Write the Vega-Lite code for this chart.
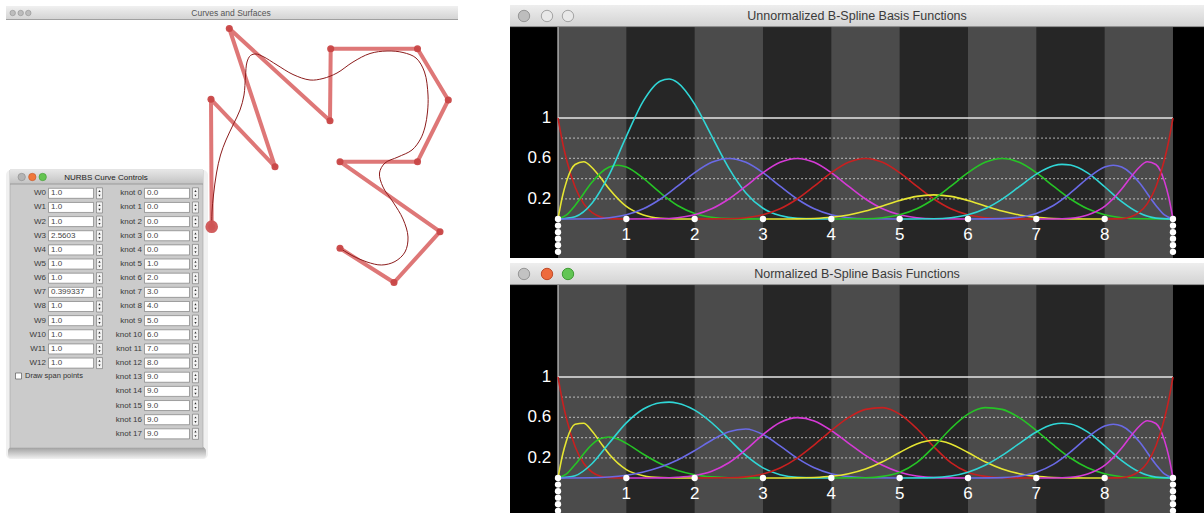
{
"$schema": "https://vega.github.io/schema/vega-lite/v6.json",
"padding": 0,
"background": "white",
"config": {"view": {"stroke": null}, "text": {"font": "Liberation Sans"}},
"bounds": "flush",
"spacing": 0,
"datasets": {
"grid": [{"v":0.2,"t":0.05,"t2":8.9},{"v":0.4,"t":0.05,"t2":8.9},{"v":0.6,"t":0.05,"t2":8.9},{"v":0.8,"t":0.05,"t2":8.9}],
"knots": [{"t":0,"v":0},{"t":0,"v":-0.065},{"t":0,"v":-0.13},{"t":0,"v":-0.195},{"t":0,"v":-0.26},{"t":0,"v":-0.325},
{"t":1,"v":0},{"t":2,"v":0},{"t":3,"v":0},{"t":4,"v":0},{"t":5,"v":0},{"t":6,"v":0},{"t":7,"v":0},{"t":8,"v":0},
{"t":9,"v":0},{"t":9,"v":-0.065},{"t":9,"v":-0.13},{"t":9,"v":-0.195},{"t":9,"v":-0.26},{"t":9,"v":-0.325}],
"ylabels": [{"t":-0.1,"v":1,"s":"1"},{"t":-0.1,"v":0.6,"s":"0.6"},{"t":-0.1,"v":0.2,"s":"0.2"}],
"xlabels": [{"t":1,"v":-0.155,"s":"1"},{"t":2,"v":-0.155,"s":"2"},{"t":3,"v":-0.155,"s":"3"},{"t":4,"v":-0.155,"s":"4"},{"t":5,"v":-0.155,"s":"5"},{"t":6,"v":-0.155,"s":"6"},{"t":7,"v":-0.155,"s":"7"},{"t":8,"v":-0.155,"s":"8"}],
"basis": [
{"p":"U","i":0,"t":0,"v":1},{"p":"U","i":0,"t":0.0625,"v":0.7725},{"p":"U","i":0,"t":0.125,"v":0.5862},{"p":"U","i":0,"t":0.25,"v":0.3164},{"p":"U","i":0,"t":0.375,"v":0.1526},{"p":"U","i":0,"t":0.5,"v":0.0625},{"p":"U","i":0,"t":0.625,"v":0.0198},{"p":"U","i":0,"t":0.75,"v":0.0039},{"p":"U","i":0,"t":1,"v":0},
{"p":"U","i":1,"t":0,"v":0},{"p":"U","i":1,"t":0.0625,"v":0.2165},{"p":"U","i":1,"t":0.125,"v":0.3726},{"p":"U","i":1,"t":0.25,"v":0.5396},{"p":"U","i":1,"t":0.375,"v":0.5664},{"p":"U","i":1,"t":0.5,"v":0.5078},{"p":"U","i":1,"t":0.625,"v":0.4073},{"p":"U","i":1,"t":0.75,"v":0.2974},{"p":"U","i":1,"t":1,"v":0.125},{"p":"U","i":1,"t":1.25,"v":0.0396},{"p":"U","i":1,"t":1.5,"v":0.0078},{"p":"U","i":1,"t":1.75,"v":0.0005},{"p":"U","i":1,"t":2,"v":0},
{"p":"U","i":2,"t":0,"v":0},{"p":"U","i":2,"t":0.125,"v":0.04},{"p":"U","i":2,"t":0.25,"v":0.1348},{"p":"U","i":2,"t":0.5,"v":0.3655},{"p":"U","i":2,"t":0.625,"v":0.4568},{"p":"U","i":2,"t":0.75,"v":0.5142},{"p":"U","i":2,"t":0.875,"v":0.5325},{"p":"U","i":2,"t":1,"v":0.5139},{"p":"U","i":2,"t":1.25,"v":0.4024},{"p":"U","i":2,"t":1.5,"v":0.2578},{"p":"U","i":2,"t":1.75,"v":0.1342},{"p":"U","i":2,"t":2,"v":0.0556},{"p":"U","i":2,"t":2.25,"v":0.0176},{"p":"U","i":2,"t":2.5,"v":0.0035},{"p":"U","i":2,"t":3,"v":0},
{"p":"U","i":3,"t":0,"v":0},{"p":"U","i":3,"t":0.25,"v":0.0233},{"p":"U","i":3,"t":0.5,"v":0.1578},{"p":"U","i":3,"t":0.75,"v":0.4388},{"p":"U","i":3,"t":1,"v":0.8178},{"p":"U","i":3,"t":1.25,"v":1.17},{"p":"U","i":3,"t":1.5,"v":1.3669},{"p":"U","i":3,"t":1.625,"v":1.3856},{"p":"U","i":3,"t":1.75,"v":1.35},{"p":"U","i":3,"t":2,"v":1.1378},{"p":"U","i":3,"t":2.25,"v":0.8206},{"p":"U","i":3,"t":2.5,"v":0.5044},{"p":"U","i":3,"t":2.75,"v":0.2583},{"p":"U","i":3,"t":3,"v":0.1068},{"p":"U","i":3,"t":3.25,"v":0.0338},{"p":"U","i":3,"t":3.5,"v":0.0067},{"p":"U","i":3,"t":4,"v":0},
{"p":"U","i":4,"t":0,"v":0},{"p":"U","i":4,"t":0.5,"v":0.0026},{"p":"U","i":4,"t":0.75,"v":0.0132},{"p":"U","i":4,"t":1,"v":0.0417},{"p":"U","i":4,"t":1.25,"v":0.1009},{"p":"U","i":4,"t":1.5,"v":0.1979},{"p":"U","i":4,"t":1.75,"v":0.3249},{"p":"U","i":4,"t":2,"v":0.4583},{"p":"U","i":4,"t":2.25,"v":0.5609},{"p":"U","i":4,"t":2.5,"v":0.599},{"p":"U","i":4,"t":2.75,"v":0.5609},{"p":"U","i":4,"t":3,"v":0.4583},{"p":"U","i":4,"t":3.25,"v":0.3249},{"p":"U","i":4,"t":3.5,"v":0.1979},{"p":"U","i":4,"t":3.75,"v":0.1009},{"p":"U","i":4,"t":4,"v":0.0417},{"p":"U","i":4,"t":4.25,"v":0.0132},{"p":"U","i":4,"t":4.5,"v":0.0026},{"p":"U","i":4,"t":5,"v":0},
{"p":"U","i":5,"t":1,"v":0},{"p":"U","i":5,"t":1.5,"v":0.0026},{"p":"U","i":5,"t":1.75,"v":0.0132},{"p":"U","i":5,"t":2,"v":0.0417},{"p":"U","i":5,"t":2.25,"v":0.1009},{"p":"U","i":5,"t":2.5,"v":0.1979},{"p":"U","i":5,"t":2.75,"v":0.3249},{"p":"U","i":5,"t":3,"v":0.4583},{"p":"U","i":5,"t":3.25,"v":0.5609},{"p":"U","i":5,"t":3.5,"v":0.599},{"p":"U","i":5,"t":3.75,"v":0.5609},{"p":"U","i":5,"t":4,"v":0.4583},{"p":"U","i":5,"t":4.25,"v":0.3249},{"p":"U","i":5,"t":4.5,"v":0.1979},{"p":"U","i":5,"t":4.75,"v":0.1009},{"p":"U","i":5,"t":5,"v":0.0417},{"p":"U","i":5,"t":5.25,"v":0.0132},{"p":"U","i":5,"t":5.5,"v":0.0026},{"p":"U","i":5,"t":6,"v":0},
{"p":"U","i":6,"t":2,"v":0},{"p":"U","i":6,"t":2.5,"v":0.0026},{"p":"U","i":6,"t":2.75,"v":0.0132},{"p":"U","i":6,"t":3,"v":0.0417},{"p":"U","i":6,"t":3.25,"v":0.1009},{"p":"U","i":6,"t":3.5,"v":0.1979},{"p":"U","i":6,"t":3.75,"v":0.3249},{"p":"U","i":6,"t":4,"v":0.4583},{"p":"U","i":6,"t":4.25,"v":0.5609},{"p":"U","i":6,"t":4.5,"v":0.599},{"p":"U","i":6,"t":4.75,"v":0.5609},{"p":"U","i":6,"t":5,"v":0.4583},{"p":"U","i":6,"t":5.25,"v":0.3249},{"p":"U","i":6,"t":5.5,"v":0.1979},{"p":"U","i":6,"t":5.75,"v":0.1009},{"p":"U","i":6,"t":6,"v":0.0417},{"p":"U","i":6,"t":6.25,"v":0.0132},{"p":"U","i":6,"t":6.5,"v":0.0026},{"p":"U","i":6,"t":7,"v":0},
{"p":"U","i":7,"t":3,"v":0},{"p":"U","i":7,"t":3.5,"v":0.001},{"p":"U","i":7,"t":3.75,"v":0.0053},{"p":"U","i":7,"t":4,"v":0.0166},{"p":"U","i":7,"t":4.25,"v":0.0403},{"p":"U","i":7,"t":4.5,"v":0.079},{"p":"U","i":7,"t":4.75,"v":0.1297},{"p":"U","i":7,"t":5,"v":0.183},{"p":"U","i":7,"t":5.25,"v":0.224},{"p":"U","i":7,"t":5.5,"v":0.2392},{"p":"U","i":7,"t":5.75,"v":0.224},{"p":"U","i":7,"t":6,"v":0.183},{"p":"U","i":7,"t":6.25,"v":0.1297},{"p":"U","i":7,"t":6.5,"v":0.079},{"p":"U","i":7,"t":6.75,"v":0.0403},{"p":"U","i":7,"t":7,"v":0.0166},{"p":"U","i":7,"t":7.25,"v":0.0053},{"p":"U","i":7,"t":7.5,"v":0.001},{"p":"U","i":7,"t":8,"v":0},
{"p":"U","i":8,"t":4,"v":0},{"p":"U","i":8,"t":4.5,"v":0.0026},{"p":"U","i":8,"t":4.75,"v":0.0132},{"p":"U","i":8,"t":5,"v":0.0417},{"p":"U","i":8,"t":5.25,"v":0.1009},{"p":"U","i":8,"t":5.5,"v":0.1979},{"p":"U","i":8,"t":5.75,"v":0.3249},{"p":"U","i":8,"t":6,"v":0.4583},{"p":"U","i":8,"t":6.25,"v":0.5609},{"p":"U","i":8,"t":6.5,"v":0.599},{"p":"U","i":8,"t":6.75,"v":0.5609},{"p":"U","i":8,"t":7,"v":0.4583},{"p":"U","i":8,"t":7.25,"v":0.3249},{"p":"U","i":8,"t":7.5,"v":0.1979},{"p":"U","i":8,"t":7.75,"v":0.1009},{"p":"U","i":8,"t":8,"v":0.0417},{"p":"U","i":8,"t":8.25,"v":0.0132},{"p":"U","i":8,"t":8.5,"v":0.0026},{"p":"U","i":8,"t":9,"v":0},
{"p":"U","i":9,"t":5,"v":0},{"p":"U","i":9,"t":5.5,"v":0.0026},{"p":"U","i":9,"t":5.75,"v":0.0132},{"p":"U","i":9,"t":6,"v":0.0417},{"p":"U","i":9,"t":6.25,"v":0.1009},{"p":"U","i":9,"t":6.5,"v":0.197},{"p":"U","i":9,"t":6.75,"v":0.3205},{"p":"U","i":9,"t":7,"v":0.4444},{"p":"U","i":9,"t":7.25,"v":0.5273},{"p":"U","i":9,"t":7.375,"v":0.5412},{"p":"U","i":9,"t":7.5,"v":0.5339},{"p":"U","i":9,"t":7.75,"v":0.457},{"p":"U","i":9,"t":8,"v":0.3194},{"p":"U","i":9,"t":8.25,"v":0.1714},{"p":"U","i":9,"t":8.5,"v":0.0616},{"p":"U","i":9,"t":8.75,"v":0.0091},{"p":"U","i":9,"t":9,"v":0},
{"p":"U","i":10,"t":6,"v":0},{"p":"U","i":10,"t":6.5,"v":0.0035},{"p":"U","i":10,"t":6.75,"v":0.0176},{"p":"U","i":10,"t":7,"v":0.0556},{"p":"U","i":10,"t":7.25,"v":0.1342},{"p":"U","i":10,"t":7.5,"v":0.2578},{"p":"U","i":10,"t":7.75,"v":0.4024},{"p":"U","i":10,"t":8,"v":0.5139},{"p":"U","i":10,"t":8.125,"v":0.5325},{"p":"U","i":10,"t":8.25,"v":0.5142},{"p":"U","i":10,"t":8.375,"v":0.4568},{"p":"U","i":10,"t":8.5,"v":0.3655},{"p":"U","i":10,"t":8.75,"v":0.1348},{"p":"U","i":10,"t":8.875,"v":0.04},{"p":"U","i":10,"t":9,"v":0},
{"p":"U","i":11,"t":7,"v":0},{"p":"U","i":11,"t":7.25,"v":0.0005},{"p":"U","i":11,"t":7.5,"v":0.0078},{"p":"U","i":11,"t":7.75,"v":0.0396},{"p":"U","i":11,"t":8,"v":0.125},{"p":"U","i":11,"t":8.25,"v":0.2974},{"p":"U","i":11,"t":8.375,"v":0.4073},{"p":"U","i":11,"t":8.5,"v":0.5078},{"p":"U","i":11,"t":8.625,"v":0.5664},{"p":"U","i":11,"t":8.75,"v":0.5396},{"p":"U","i":11,"t":8.875,"v":0.3726},{"p":"U","i":11,"t":8.9375,"v":0.2165},{"p":"U","i":11,"t":9,"v":0},
{"p":"U","i":12,"t":8,"v":0},{"p":"U","i":12,"t":8.25,"v":0.0039},{"p":"U","i":12,"t":8.375,"v":0.0198},{"p":"U","i":12,"t":8.5,"v":0.0625},{"p":"U","i":12,"t":8.625,"v":0.1526},{"p":"U","i":12,"t":8.75,"v":0.3164},{"p":"U","i":12,"t":8.875,"v":0.5862},{"p":"U","i":12,"t":8.9375,"v":0.7725},{"p":"U","i":12,"t":9,"v":1},
{"p":"N","i":0,"t":0,"v":1},{"p":"N","i":0,"t":0.0625,"v":0.7724},{"p":"N","i":0,"t":0.125,"v":0.5851},{"p":"N","i":0,"t":0.25,"v":0.312},{"p":"N","i":0,"t":0.375,"v":0.1461},{"p":"N","i":0,"t":0.5,"v":0.057},{"p":"N","i":0,"t":0.625,"v":0.0169},{"p":"N","i":0,"t":0.75,"v":0.0031},{"p":"N","i":0,"t":1,"v":0},
{"p":"N","i":1,"t":0,"v":0},{"p":"N","i":1,"t":0.0625,"v":0.2165},{"p":"N","i":1,"t":0.125,"v":0.3719},{"p":"N","i":1,"t":0.25,"v":0.532},{"p":"N","i":1,"t":0.375,"v":0.5424},{"p":"N","i":1,"t":0.5,"v":0.4633},{"p":"N","i":1,"t":0.625,"v":0.3477},{"p":"N","i":1,"t":0.75,"v":0.2347},{"p":"N","i":1,"t":1,"v":0.0834},{"p":"N","i":1,"t":1.25,"v":0.0231},{"p":"N","i":1,"t":1.5,"v":0.0043},{"p":"N","i":1,"t":1.75,"v":0.0003},{"p":"N","i":1,"t":2,"v":0},
{"p":"N","i":2,"t":0,"v":0},{"p":"N","i":2,"t":0.125,"v":0.0399},{"p":"N","i":2,"t":0.25,"v":0.1329},{"p":"N","i":2,"t":0.5,"v":0.3335},{"p":"N","i":2,"t":0.625,"v":0.39},{"p":"N","i":2,"t":0.75,"v":0.4057},{"p":"N","i":2,"t":0.875,"v":0.386},{"p":"N","i":2,"t":1,"v":0.343},{"p":"N","i":2,"t":1.25,"v":0.2349},{"p":"N","i":2,"t":1.5,"v":0.1406},{"p":"N","i":2,"t":1.75,"v":0.0736},{"p":"N","i":2,"t":2,"v":0.0328},{"p":"N","i":2,"t":2.25,"v":0.0117},{"p":"N","i":2,"t":2.5,"v":0.0027},{"p":"N","i":2,"t":3,"v":0},
{"p":"N","i":3,"t":0,"v":0},{"p":"N","i":3,"t":0.25,"v":0.023},{"p":"N","i":3,"t":0.5,"v":0.144},{"p":"N","i":3,"t":0.75,"v":0.3462},{"p":"N","i":3,"t":1,"v":0.5458},{"p":"N","i":3,"t":1.25,"v":0.683},{"p":"N","i":3,"t":1.5,"v":0.7457},{"p":"N","i":3,"t":1.625,"v":0.7512},{"p":"N","i":3,"t":1.75,"v":0.7406},{"p":"N","i":3,"t":2,"v":0.6719},{"p":"N","i":3,"t":2.25,"v":0.547},{"p":"N","i":3,"t":2.5,"v":0.3858},{"p":"N","i":3,"t":2.75,"v":0.2232},{"p":"N","i":3,"t":3,"v":0.1003},{"p":"N","i":3,"t":3.25,"v":0.0331},{"p":"N","i":3,"t":3.5,"v":0.0067},{"p":"N","i":3,"t":4,"v":0},
{"p":"N","i":4,"t":0,"v":0},{"p":"N","i":4,"t":0.5,"v":0.0024},{"p":"N","i":4,"t":0.75,"v":0.0104},{"p":"N","i":4,"t":1,"v":0.0278},{"p":"N","i":4,"t":1.25,"v":0.0589},{"p":"N","i":4,"t":1.5,"v":0.108},{"p":"N","i":4,"t":1.75,"v":0.1782},{"p":"N","i":4,"t":2,"v":0.2706},{"p":"N","i":4,"t":2.25,"v":0.3739},{"p":"N","i":4,"t":2.5,"v":0.4582},{"p":"N","i":4,"t":2.75,"v":0.4846},{"p":"N","i":4,"t":3,"v":0.4303},{"p":"N","i":4,"t":3.25,"v":0.3184},{"p":"N","i":4,"t":3.5,"v":0.1974},{"p":"N","i":4,"t":3.75,"v":0.1017},{"p":"N","i":4,"t":4,"v":0.0428},{"p":"N","i":4,"t":4.25,"v":0.0141},{"p":"N","i":4,"t":4.5,"v":0.003},{"p":"N","i":4,"t":5,"v":0},
{"p":"N","i":5,"t":1,"v":0},{"p":"N","i":5,"t":1.5,"v":0.0014},{"p":"N","i":5,"t":1.75,"v":0.0072},{"p":"N","i":5,"t":2,"v":0.0246},{"p":"N","i":5,"t":2.25,"v":0.0673},{"p":"N","i":5,"t":2.5,"v":0.1514},{"p":"N","i":5,"t":2.75,"v":0.2807},{"p":"N","i":5,"t":3,"v":0.4303},{"p":"N","i":5,"t":3.25,"v":0.5496},{"p":"N","i":5,"t":3.5,"v":0.5975},{"p":"N","i":5,"t":3.75,"v":0.5652},{"p":"N","i":5,"t":4,"v":0.4701},{"p":"N","i":5,"t":4.25,"v":0.3459},{"p":"N","i":5,"t":4.5,"v":0.2246},{"p":"N","i":5,"t":4.75,"v":0.1254},{"p":"N","i":5,"t":5,"v":0.0575},{"p":"N","i":5,"t":5.25,"v":0.0199},{"p":"N","i":5,"t":5.5,"v":0.0041},{"p":"N","i":5,"t":6,"v":0},
{"p":"N","i":6,"t":2,"v":0},{"p":"N","i":6,"t":2.5,"v":0.002},{"p":"N","i":6,"t":2.75,"v":0.0114},{"p":"N","i":6,"t":3,"v":0.0392},{"p":"N","i":6,"t":3.25,"v":0.0989},{"p":"N","i":6,"t":3.5,"v":0.1974},{"p":"N","i":6,"t":3.75,"v":0.3274},{"p":"N","i":6,"t":4,"v":0.4701},{"p":"N","i":6,"t":4.25,"v":0.5971},{"p":"N","i":6,"t":4.5,"v":0.6798},{"p":"N","i":6,"t":4.75,"v":0.6969},{"p":"N","i":6,"t":5,"v":0.6324},{"p":"N","i":6,"t":5.25,"v":0.49},{"p":"N","i":6,"t":5.5,"v":0.3091},{"p":"N","i":6,"t":5.75,"v":0.1522},{"p":"N","i":6,"t":6,"v":0.0575},{"p":"N","i":6,"t":6.25,"v":0.0164},{"p":"N","i":6,"t":6.5,"v":0.003},{"p":"N","i":6,"t":7,"v":0},
{"p":"N","i":7,"t":3,"v":0},{"p":"N","i":7,"t":3.5,"v":0.001},{"p":"N","i":7,"t":3.75,"v":0.0053},{"p":"N","i":7,"t":4,"v":0.017},{"p":"N","i":7,"t":4.25,"v":0.0429},{"p":"N","i":7,"t":4.5,"v":0.0897},{"p":"N","i":7,"t":4.75,"v":0.1612},{"p":"N","i":7,"t":5,"v":0.2525},{"p":"N","i":7,"t":5.25,"v":0.3378},{"p":"N","i":7,"t":5.5,"v":0.3736},{"p":"N","i":7,"t":5.75,"v":0.3378},{"p":"N","i":7,"t":6,"v":0.2525},{"p":"N","i":7,"t":6.25,"v":0.1612},{"p":"N","i":7,"t":6.5,"v":0.0897},{"p":"N","i":7,"t":6.75,"v":0.0429},{"p":"N","i":7,"t":7,"v":0.017},{"p":"N","i":7,"t":7.25,"v":0.0053},{"p":"N","i":7,"t":7.5,"v":0.001},{"p":"N","i":7,"t":8,"v":0},
{"p":"N","i":8,"t":4,"v":0},{"p":"N","i":8,"t":4.5,"v":0.003},{"p":"N","i":8,"t":4.75,"v":0.0164},{"p":"N","i":8,"t":5,"v":0.0575},{"p":"N","i":8,"t":5.25,"v":0.1522},{"p":"N","i":8,"t":5.5,"v":0.3091},{"p":"N","i":8,"t":5.75,"v":0.49},{"p":"N","i":8,"t":6,"v":0.6324},{"p":"N","i":8,"t":6.25,"v":0.6969},{"p":"N","i":8,"t":6.5,"v":0.6798},{"p":"N","i":8,"t":6.75,"v":0.5971},{"p":"N","i":8,"t":7,"v":0.4701},{"p":"N","i":8,"t":7.25,"v":0.3275},{"p":"N","i":8,"t":7.5,"v":0.1982},{"p":"N","i":8,"t":7.75,"v":0.1009},{"p":"N","i":8,"t":8,"v":0.0417},{"p":"N","i":8,"t":8.25,"v":0.0132},{"p":"N","i":8,"t":8.5,"v":0.0026},{"p":"N","i":8,"t":9,"v":0},
{"p":"N","i":9,"t":5,"v":0},{"p":"N","i":9,"t":5.5,"v":0.0041},{"p":"N","i":9,"t":5.75,"v":0.0199},{"p":"N","i":9,"t":6,"v":0.0575},{"p":"N","i":9,"t":6.25,"v":0.1254},{"p":"N","i":9,"t":6.5,"v":0.2236},{"p":"N","i":9,"t":6.75,"v":0.3412},{"p":"N","i":9,"t":7,"v":0.4558},{"p":"N","i":9,"t":7.25,"v":0.5315},{"p":"N","i":9,"t":7.375,"v":0.5417},{"p":"N","i":9,"t":7.5,"v":0.5348},{"p":"N","i":9,"t":7.75,"v":0.457},{"p":"N","i":9,"t":8,"v":0.3194},{"p":"N","i":9,"t":8.25,"v":0.1714},{"p":"N","i":9,"t":8.5,"v":0.0616},{"p":"N","i":9,"t":8.75,"v":0.0091},{"p":"N","i":9,"t":9,"v":0},
{"p":"N","i":10,"t":6,"v":0},{"p":"N","i":10,"t":6.5,"v":0.004},{"p":"N","i":10,"t":6.75,"v":0.0187},{"p":"N","i":10,"t":7,"v":0.057},{"p":"N","i":10,"t":7.25,"v":0.1353},{"p":"N","i":10,"t":7.5,"v":0.2582},{"p":"N","i":10,"t":7.75,"v":0.4024},{"p":"N","i":10,"t":8,"v":0.5139},{"p":"N","i":10,"t":8.125,"v":0.5325},{"p":"N","i":10,"t":8.25,"v":0.5142},{"p":"N","i":10,"t":8.375,"v":0.4568},{"p":"N","i":10,"t":8.5,"v":0.3655},{"p":"N","i":10,"t":8.75,"v":0.1348},{"p":"N","i":10,"t":8.875,"v":0.04},{"p":"N","i":10,"t":9,"v":0},
{"p":"N","i":11,"t":7,"v":0},{"p":"N","i":11,"t":7.25,"v":0.0005},{"p":"N","i":11,"t":7.5,"v":0.0078},{"p":"N","i":11,"t":7.75,"v":0.0396},{"p":"N","i":11,"t":8,"v":0.125},{"p":"N","i":11,"t":8.25,"v":0.2974},{"p":"N","i":11,"t":8.375,"v":0.4073},{"p":"N","i":11,"t":8.5,"v":0.5078},{"p":"N","i":11,"t":8.625,"v":0.5664},{"p":"N","i":11,"t":8.75,"v":0.5396},{"p":"N","i":11,"t":8.875,"v":0.3726},{"p":"N","i":11,"t":8.9375,"v":0.2165},{"p":"N","i":11,"t":9,"v":0},
{"p":"N","i":12,"t":8,"v":0},{"p":"N","i":12,"t":8.25,"v":0.0039},{"p":"N","i":12,"t":8.375,"v":0.0198},{"p":"N","i":12,"t":8.5,"v":0.0625},{"p":"N","i":12,"t":8.625,"v":0.1526},{"p":"N","i":12,"t":8.75,"v":0.3164},{"p":"N","i":12,"t":8.875,"v":0.5862},{"p":"N","i":12,"t":8.9375,"v":0.7725},{"p":"N","i":12,"t":9,"v":1}
],
"ctrl": [{"k":0,"x":211.7,"y":226.7},{"k":1,"x":211,"y":99.3},{"k":2,"x":275,"y":166.7},{"k":3,"x":229.3,"y":28.5},{"k":4,"x":330,"y":120.7},{"k":5,"x":330.7,"y":48.7},{"k":6,"x":417.5,"y":48.7},{"k":7,"x":448.3,"y":100},{"k":8,"x":417.5,"y":161.7},{"k":9,"x":340,"y":161.7},{"k":10,"x":440,"y":231.7},{"k":11,"x":394,"y":282.5},{"k":12,"x":340,"y":248.3}],
"curve": [{"k":0,"x":211.7,"y":226.7},{"k":1,"x":212,"y":212},{"k":2,"x":213.5,"y":195},{"k":3,"x":216.5,"y":173},{"k":4,"x":220.5,"y":155},{"k":5,"x":226,"y":140},{"k":6,"x":233.5,"y":124},{"k":7,"x":240,"y":110},{"k":8,"x":244,"y":95},{"k":9,"x":245.5,"y":76},{"k":10,"x":247,"y":62},{"k":11,"x":250.5,"y":55.5},{"k":12,"x":256,"y":54},{"k":13,"x":263,"y":56.5},{"k":14,"x":277,"y":65},{"k":15,"x":293,"y":74.5},{"k":16,"x":310,"y":80},{"k":17,"x":323,"y":78.5},{"k":18,"x":337,"y":73},{"k":19,"x":353,"y":62},{"k":20,"x":370,"y":53.5},{"k":21,"x":387,"y":51},{"k":22,"x":403,"y":52.5},{"k":23,"x":416,"y":58},{"k":24,"x":424.5,"y":72},{"k":25,"x":428,"y":95},{"k":26,"x":427.5,"y":112},{"k":27,"x":425,"y":127},{"k":28,"x":420.5,"y":139},{"k":29,"x":412,"y":150},{"k":30,"x":398,"y":157},{"k":31,"x":385,"y":163},{"k":32,"x":379.5,"y":173},{"k":33,"x":383,"y":187},{"k":34,"x":393,"y":202},{"k":35,"x":403,"y":219},{"k":36,"x":408,"y":237},{"k":37,"x":405,"y":252},{"k":38,"x":395,"y":261.5},{"k":39,"x":381.5,"y":265},{"k":40,"x":367,"y":262},{"k":41,"x":353,"y":256},{"k":42,"x":340,"y":248.3}],
"fields": [
{"col":0,"row":0,"label":"W0","value":"1.0"},{"col":0,"row":1,"label":"W1","value":"1.0"},{"col":0,"row":2,"label":"W2","value":"1.0"},{"col":0,"row":3,"label":"W3","value":"2.5603"},{"col":0,"row":4,"label":"W4","value":"1.0"},{"col":0,"row":5,"label":"W5","value":"1.0"},{"col":0,"row":6,"label":"W6","value":"1.0"},{"col":0,"row":7,"label":"W7","value":"0.399337"},{"col":0,"row":8,"label":"W8","value":"1.0"},{"col":0,"row":9,"label":"W9","value":"1.0"},{"col":0,"row":10,"label":"W10","value":"1.0"},{"col":0,"row":11,"label":"W11","value":"1.0"},{"col":0,"row":12,"label":"W12","value":"1.0"},
{"col":1,"row":0,"label":"knot 0","value":"0.0"},{"col":1,"row":1,"label":"knot 1","value":"0.0"},{"col":1,"row":2,"label":"knot 2","value":"0.0"},{"col":1,"row":3,"label":"knot 3","value":"0.0"},{"col":1,"row":4,"label":"knot 4","value":"0.0"},{"col":1,"row":5,"label":"knot 5","value":"1.0"},{"col":1,"row":6,"label":"knot 6","value":"2.0"},{"col":1,"row":7,"label":"knot 7","value":"3.0"},{"col":1,"row":8,"label":"knot 8","value":"4.0"},{"col":1,"row":9,"label":"knot 9","value":"5.0"},{"col":1,"row":10,"label":"knot 10","value":"6.0"},{"col":1,"row":11,"label":"knot 11","value":"7.0"},{"col":1,"row":12,"label":"knot 12","value":"8.0"},{"col":1,"row":13,"label":"knot 13","value":"9.0"},{"col":1,"row":14,"label":"knot 14","value":"9.0"},{"col":1,"row":15,"label":"knot 15","value":"9.0"},{"col":1,"row":16,"label":"knot 16","value":"9.0"},{"col":1,"row":17,"label":"knot 17","value":"9.0"}
]
},
"hconcat": [
{
"width": 510, "height": 513,
"resolve": {"scale": {"x": "independent", "y": "independent"}},
"layer": [
{
"encoding": {
"x": {"field": "x", "type": "quantitative", "axis": null, "scale": {"domain": [0, 510], "nice": false, "zero": false}},
"y": {"field": "y", "type": "quantitative", "axis": null, "scale": {"domain": [0, 513], "reverse": true, "nice": false, "zero": false}}
},
"layer": [
{"data": {"values": [{"x": 6, "x2": 458, "y": 6, "y2": 19.5}]}, "mark": {"type": "rect", "fill": {"x1": 0, "y1": 0, "x2": 0, "y2": 1, "gradient": "linear", "stops": [{"offset": 0, "color": "#f0f0f0"}, {"offset": 1, "color": "#d3d3d3"}]}},
 "encoding": {"x2": {"field": "x2"}, "y2": {"field": "y2"}}},
{"data": {"values": [{"x": 6, "x2": 458, "y": 19.5}]}, "mark": {"type": "rule", "stroke": "#a0a0a0", "strokeWidth": 1},
 "encoding": {"x2": {"field": "x2"}}},
{"data": {"values": [{"x": 231, "y": 13, "s": "Curves and Surfaces"}]}, "mark": {"type": "text", "fontSize": 8.5, "fill": "#555555", "align": "center", "baseline": "middle"},
 "encoding": {"text": {"field": "s"}}},
{"data": {"values": [{"x": 12.7, "y": 13}, {"x": 20.7, "y": 13}, {"x": 28.3, "y": 13}]}, "mark": {"type": "point", "filled": true, "size": 30, "fill": "#bdbdbd", "stroke": "#909090", "strokeWidth": 0.6, "opacity": 1}},
{"data": {"values": [{"x": 6, "x2": 208, "y": 170, "y2": 459}]}, "mark": {"type": "rect", "fill": "#000000", "opacity": 0.06, "cornerRadius": 5},
 "encoding": {"x2": {"field": "x2"}, "y2": {"field": "y2"}}},
{"data": {"values": [{"x": 8, "x2": 206, "y": 447, "y2": 459}]}, "mark": {"type": "rect", "cornerRadius": 4, "fill": {"x1": 0, "y1": 0, "x2": 0, "y2": 1, "gradient": "linear", "stops": [{"offset": 0, "color": "#9c9c9c"}, {"offset": 1, "color": "#f2f2f2"}]}},
 "encoding": {"x2": {"field": "x2"}, "y2": {"field": "y2"}}},
{"data": {"values": [{"x": 10, "x2": 203, "y": 170, "y2": 448}]}, "mark": {"type": "rect", "fill": "#cbcbcb", "stroke": "#a5a5a5", "strokeWidth": 0.6},
 "encoding": {"x2": {"field": "x2"}, "y2": {"field": "y2"}}},
{"data": {"values": [{"x": 10, "x2": 203, "y": 170, "y2": 184}]}, "mark": {"type": "rect", "fill": {"x1": 0, "y1": 0, "x2": 0, "y2": 1, "gradient": "linear", "stops": [{"offset": 0, "color": "#e6e6e6"}, {"offset": 1, "color": "#c2c2c2"}]}},
 "encoding": {"x2": {"field": "x2"}, "y2": {"field": "y2"}}},
{"data": {"values": [{"x": 10, "x2": 203, "y": 184}]}, "mark": {"type": "rule", "stroke": "#8f8f8f", "strokeWidth": 0.8},
 "encoding": {"x2": {"field": "x2"}}},
{"data": {"values": [{"x": 106, "y": 177.5, "s": "NURBS Curve Controls"}]}, "mark": {"type": "text", "fontSize": 8, "fill": "#222222", "align": "center", "baseline": "middle"},
 "encoding": {"text": {"field": "s"}}},
{"data": {"values": [{"x": 21.7, "y": 177}]}, "mark": {"type": "point", "filled": true, "size": 55, "fill": "#b4b4b4", "stroke": "#8a8a8a", "strokeWidth": 0.6, "opacity": 1}},
{"data": {"values": [{"x": 32.3, "y": 177}]}, "mark": {"type": "point", "filled": true, "size": 55, "fill": "#f0783a", "stroke": "#c2552a", "strokeWidth": 0.6, "opacity": 1}},
{"data": {"values": [{"x": 42.7, "y": 177}]}, "mark": {"type": "point", "filled": true, "size": 55, "fill": "#64c450", "stroke": "#3f9a34", "strokeWidth": 0.6, "opacity": 1}},
{"data": {"values": [{"x": 15.5, "x2": 21.5, "y": 373, "y2": 379}]}, "mark": {"type": "rect", "fill": "white", "stroke": "#5a5a5a", "strokeWidth": 0.7},
 "encoding": {"x2": {"field": "x2"}, "y2": {"field": "y2"}}},
{"data": {"values": [{"x": 25, "y": 376, "s": "Draw span points"}]}, "mark": {"type": "text", "fontSize": 7.5, "fill": "#333333", "align": "left", "baseline": "middle"},
 "encoding": {"text": {"field": "s"}}},
{"data": {"name": "ctrl"}, "mark": {"type": "line", "stroke": "#d85f5f", "strokeWidth": 4, "opacity": 0.85, "strokeCap": "round", "strokeJoin": "round"},
 "encoding": {"order": {"field": "k", "type": "quantitative"}}},
{"data": {"name": "curve"}, "mark": {"type": "line", "stroke": "#8c1c1c", "strokeWidth": 1, "interpolate": "catmull-rom"},
 "encoding": {"order": {"field": "k", "type": "quantitative"}}},
{"data": {"name": "ctrl"}, "mark": {"type": "point", "filled": true, "size": 50, "fill": "#c84646", "opacity": 0.95}},
{"data": {"name": "ctrl"}, "transform": [{"filter": "datum.k == 0"}], "mark": {"type": "point", "filled": true, "size": 160, "fill": "#cf5555", "opacity": 0.95}}
]
},
{
"data": {"name": "fields"},
"encoding": {
"x": {"field": "col", "type": "quantitative", "axis": null, "scale": {"domain": [-0.489583, 4.822917], "nice": false, "zero": false}},
"y": {"field": "row", "type": "quantitative", "axis": null, "scale": {"domain": [-13.661, 22.594], "reverse": true, "nice": false, "zero": false}}
},
"layer": [
{"mark": {"type": "rect", "fill": "white", "stroke": "#6e6e6e", "strokeWidth": 0.6, "xOffset": 1.5, "x2Offset": 46.5, "yOffset": -5, "y2Offset": 5},
 "encoding": {"x2": {"field": "col"}, "y2": {"field": "row"}}},
{"mark": {"type": "rect", "fill": "#f2f2f2", "stroke": "#6e6e6e", "strokeWidth": 0.6, "xOffset": 49.5, "x2Offset": 55.5, "yOffset": -5.5, "y2Offset": 5.5},
 "encoding": {"x2": {"field": "col"}, "y2": {"field": "row"}}},
{"mark": {"type": "point", "shape": "triangle-up", "filled": true, "size": 5, "fill": "#333333", "xOffset": 52.5, "yOffset": -2.3, "opacity": 1}},
{"mark": {"type": "point", "shape": "triangle-down", "filled": true, "size": 5, "fill": "#333333", "xOffset": 52.5, "yOffset": 2.3, "opacity": 1}},
{"mark": {"type": "text", "align": "right", "baseline": "middle", "fontSize": 8, "fill": "#3a3a3a", "dx": -1},
 "encoding": {"text": {"field": "label"}}},
{"mark": {"type": "text", "align": "left", "baseline": "middle", "fontSize": 8, "fill": "#444444", "dx": 4},
 "encoding": {"text": {"field": "value"}}}
]
}
]
},
{
"bounds": "flush",
"spacing": 5,
"vconcat": [
{
"width": 694, "height": 258,
"encoding": {
"x": {"field": "t", "type": "quantitative", "axis": null, "scale": {"domain": [-0.7025, 9.454], "nice": false, "zero": false}},
"y": {"field": "v", "type": "quantitative", "axis": null, "scale": {"domain": [-0.3861, 2.1683], "nice": false, "zero": false}}
},
"layer": [
{"data": {"values": [{"t": -0.7025, "t2": 9.454, "v": -0.3861, "v2": 1.901}]}, "mark": {"type": "rect", "fill": "#000000"}, "encoding": {"x2": {"field": "t2"}, "y2": {"field": "v2"}}},
{"data": {"values": [{"t": 0, "t2": 9, "v": -0.3861, "v2": 1.901}]}, "mark": {"type": "rect", "fill": "#4b4b4b"}, "encoding": {"x2": {"field": "t2"}, "y2": {"field": "v2"}}},
{"data": {"values": [{"t": 1, "t2": 2, "v": -0.3861, "v2": 1.901}, {"t": 3, "t2": 4, "v": -0.3861, "v2": 1.901}, {"t": 5, "t2": 6, "v": -0.3861, "v2": 1.901}, {"t": 7, "t2": 8, "v": -0.3861, "v2": 1.901}]}, "mark": {"type": "rect", "fill": "#262626"}, "encoding": {"x2": {"field": "t2"}, "y2": {"field": "v2"}}},
{"data": {"name": "grid"}, "mark": {"type": "rule", "stroke": "#f2f2f2", "strokeWidth": 1.2, "strokeDash": [1.2, 2.8], "opacity": 0.9}, "encoding": {"x2": {"field": "t2"}}},
{"data": {"values": [{"t": 0, "t2": 9, "v": 1}]}, "mark": {"type": "rule", "stroke": "#e6e6e6", "strokeWidth": 1.5}, "encoding": {"x2": {"field": "t2"}}},
{"data": {"values": [{"t": 0, "v": 0, "v2": 1.901}]}, "mark": {"type": "rule", "stroke": "#e6e6e6", "strokeWidth": 1}, "encoding": {"y2": {"field": "v2"}}},
{"data": {"name": "basis"}, "transform": [{"filter": "datum.p == 'U'"}], "mark": {"type": "line", "interpolate": "monotone", "strokeWidth": 1.6},
 "encoding": {"color": {"field": "i", "type": "nominal", "legend": null, "scale": {"domain": [0,1,2,3,4,5,6,7,8,9,10,11,12], "range": ["#c82020","#e6e632","#26c426","#30d6d6","#6a6ae6","#d63ad6","#c82020","#e6e632","#26c426","#30d6d6","#6a6ae6","#d63ad6","#c82020"]}}}},
{"data": {"name": "knots"}, "mark": {"type": "point", "filled": true, "fill": "white", "size": 40, "opacity": 1}},
{"data": {"name": "ylabels"}, "mark": {"type": "text", "align": "right", "baseline": "middle", "fontSize": 17, "fill": "white"}, "encoding": {"text": {"field": "s"}}},
{"data": {"name": "xlabels"}, "mark": {"type": "text", "align": "center", "baseline": "middle", "fontSize": 17, "fill": "white"}, "encoding": {"text": {"field": "s"}}},
{"data": {"values": [{"t": -0.7025, "t2": 9.454, "v": 1.901, "v2": 2.1188}]}, "mark": {"type": "rect", "fill": {"x1": 0, "y1": 0, "x2": 0, "y2": 1, "gradient": "linear", "stops": [{"offset": 0, "color": "#eeeeee"}, {"offset": 1, "color": "#d2d2d2"}]}}, "encoding": {"x2": {"field": "t2"}, "y2": {"field": "v2"}}},
{"data": {"values": [{"t": -0.7025, "t2": 9.454, "v": 1.905}]}, "mark": {"type": "rule", "stroke": "#8a8a8a", "strokeWidth": 1}, "encoding": {"x2": {"field": "t2"}}},
{"data": {"values": [{"t": 4.376, "v": 2.01, "s": "Unnormalized B-Spline Basis Functions"}]}, "mark": {"type": "text", "fontSize": 12.5, "fill": "#3a3a3a", "align": "center", "baseline": "middle"}, "encoding": {"text": {"field": "s"}}},
{"data": {"values": [{"t": -0.4976, "v": 2.01}]}, "mark": {"type": "point", "filled": true, "size": 130, "fill": "#bdbdbd", "stroke": "#959595", "strokeWidth": 1, "opacity": 1}},
{"data": {"values": [{"t": -0.161, "v": 2.01}, {"t": 0.146, "v": 2.01}]}, "mark": {"type": "point", "filled": true, "size": 130, "fill": "#e8e8e8", "stroke": "#a3a3a3", "strokeWidth": 1, "opacity": 1}}
]
},
{
"width": 694, "height": 250,
"encoding": {
"x": {"field": "t", "type": "quantitative", "axis": null, "scale": {"domain": [-0.7025, 9.454], "nice": false, "zero": false}},
"y": {"field": "v", "type": "quantitative", "axis": null, "scale": {"domain": [-0.3465, 2.1287], "nice": false, "zero": false}}
},
"layer": [
{"data": {"values": [{"t": -0.7025, "t2": 9.454, "v": -0.3465, "v2": 1.911}]}, "mark": {"type": "rect", "fill": "#000000"}, "encoding": {"x2": {"field": "t2"}, "y2": {"field": "v2"}}},
{"data": {"values": [{"t": 0, "t2": 9, "v": -0.3465, "v2": 1.911}]}, "mark": {"type": "rect", "fill": "#4b4b4b"}, "encoding": {"x2": {"field": "t2"}, "y2": {"field": "v2"}}},
{"data": {"values": [{"t": 1, "t2": 2, "v": -0.3465, "v2": 1.911}, {"t": 3, "t2": 4, "v": -0.3465, "v2": 1.911}, {"t": 5, "t2": 6, "v": -0.3465, "v2": 1.911}, {"t": 7, "t2": 8, "v": -0.3465, "v2": 1.911}]}, "mark": {"type": "rect", "fill": "#262626"}, "encoding": {"x2": {"field": "t2"}, "y2": {"field": "v2"}}},
{"data": {"name": "grid"}, "mark": {"type": "rule", "stroke": "#f2f2f2", "strokeWidth": 1.2, "strokeDash": [1.2, 2.8], "opacity": 0.9}, "encoding": {"x2": {"field": "t2"}}},
{"data": {"values": [{"t": 0, "t2": 9, "v": 1}]}, "mark": {"type": "rule", "stroke": "#e6e6e6", "strokeWidth": 1.5}, "encoding": {"x2": {"field": "t2"}}},
{"data": {"values": [{"t": 0, "v": 0, "v2": 1.911}]}, "mark": {"type": "rule", "stroke": "#e6e6e6", "strokeWidth": 1}, "encoding": {"y2": {"field": "v2"}}},
{"data": {"name": "basis"}, "transform": [{"filter": "datum.p == 'N'"}], "mark": {"type": "line", "interpolate": "monotone", "strokeWidth": 1.6},
 "encoding": {"color": {"field": "i", "type": "nominal", "legend": null, "scale": {"domain": [0,1,2,3,4,5,6,7,8,9,10,11,12], "range": ["#c82020","#e6e632","#26c426","#30d6d6","#6a6ae6","#d63ad6","#c82020","#e6e632","#26c426","#30d6d6","#6a6ae6","#d63ad6","#c82020"]}}}},
{"data": {"name": "knots"}, "mark": {"type": "point", "filled": true, "fill": "white", "size": 40, "opacity": 1}},
{"data": {"name": "ylabels"}, "mark": {"type": "text", "align": "right", "baseline": "middle", "fontSize": 17, "fill": "white"}, "encoding": {"text": {"field": "s"}}},
{"data": {"name": "xlabels"}, "mark": {"type": "text", "align": "center", "baseline": "middle", "fontSize": 17, "fill": "white"}, "encoding": {"text": {"field": "s"}}},
{"data": {"values": [{"t": -0.7025, "t2": 9.454, "v": 1.911, "v2": 2.1287}]}, "mark": {"type": "rect", "fill": {"x1": 0, "y1": 0, "x2": 0, "y2": 1, "gradient": "linear", "stops": [{"offset": 0, "color": "#eeeeee"}, {"offset": 1, "color": "#d2d2d2"}]}}, "encoding": {"x2": {"field": "t2"}, "y2": {"field": "v2"}}},
{"data": {"values": [{"t": -0.7025, "t2": 9.454, "v": 1.915}]}, "mark": {"type": "rule", "stroke": "#8a8a8a", "strokeWidth": 1}, "encoding": {"x2": {"field": "t2"}}},
{"data": {"values": [{"t": 4.376, "v": 2.02, "s": "Normalized B-Spline Basis Functions"}]}, "mark": {"type": "text", "fontSize": 12.5, "fill": "#3a3a3a", "align": "center", "baseline": "middle"}, "encoding": {"text": {"field": "s"}}},
{"data": {"values": [{"t": -0.4976, "v": 2.02}]}, "mark": {"type": "point", "filled": true, "size": 130, "fill": "#c2c2c2", "stroke": "#959595", "strokeWidth": 1, "opacity": 1}},
{"data": {"values": [{"t": -0.161, "v": 2.02}]}, "mark": {"type": "point", "filled": true, "size": 130, "fill": "#ee6a3c", "stroke": "#bf4a28", "strokeWidth": 1, "opacity": 1}},
{"data": {"values": [{"t": 0.146, "v": 2.02}]}, "mark": {"type": "point", "filled": true, "size": 130, "fill": "#62c554", "stroke": "#3f9b34", "strokeWidth": 1, "opacity": 1}}
]
}
]
}
]
}
